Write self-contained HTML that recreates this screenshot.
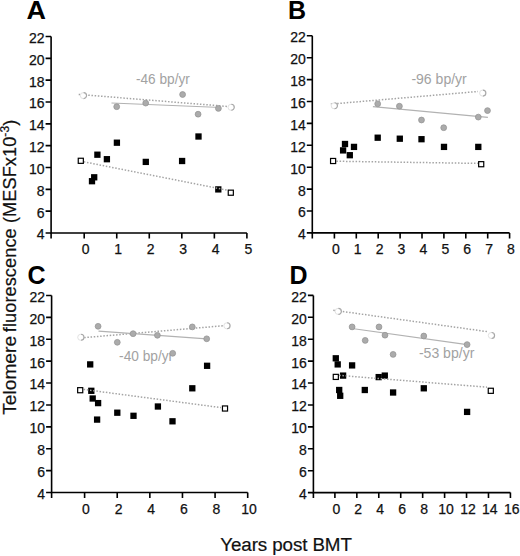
<!DOCTYPE html>
<html><head><meta charset="utf-8"><style>
html,body{margin:0;padding:0;background:#fff;}
svg{display:block;font-family:"Liberation Sans",sans-serif;}
.yl{font-size:14px;text-anchor:end;fill:#111;stroke:#111;stroke-width:0.25px;}
.xl{font-size:14px;text-anchor:middle;fill:#111;stroke:#111;stroke-width:0.25px;}
.pl{font-size:25px;font-weight:bold;fill:#000;}
.an{font-size:14px;fill:#a2a2a2;}
.al{font-size:18.2px;fill:#111;stroke:#111;stroke-width:0.2px;}
.dl{stroke:#a4a4a4;stroke-width:1.5;stroke-dasharray:1.5 1.7;}
.sl{stroke:#b2b2b2;stroke-width:1.2;}
</style></head><body>
<svg width="520" height="556" viewBox="0 0 520 556">
<rect width="520" height="556" fill="#fff"/>
<path d="M51.1 36.5V233H246.9" fill="none" stroke="#000" stroke-width="1.6"/>
<text x="44.6" y="42.9" class="yl">22</text>
<text x="44.6" y="64.73" class="yl">20</text>
<text x="44.6" y="86.57" class="yl">18</text>
<text x="44.6" y="108.4" class="yl">16</text>
<text x="44.6" y="130.23" class="yl">14</text>
<text x="44.6" y="152.07" class="yl">12</text>
<text x="44.6" y="173.9" class="yl">10</text>
<text x="44.6" y="195.73" class="yl">8</text>
<text x="44.6" y="217.57" class="yl">6</text>
<text x="44.6" y="239.4" class="yl">4</text>
<text x="85.6" y="254" class="xl">0</text>
<text x="118.14" y="254" class="xl">1</text>
<text x="150.68" y="254" class="xl">2</text>
<text x="183.22" y="254" class="xl">3</text>
<text x="215.76" y="254" class="xl">4</text>
<text x="248.3" y="254" class="xl">5</text>
<path d="M45.6 36.5H51.1M45.6 58.33H51.1M45.6 80.17H51.1M45.6 102H51.1M45.6 123.83H51.1M45.6 145.67H51.1M45.6 167.5H51.1M45.6 189.33H51.1M45.6 211.17H51.1M45.6 233H51.1M51.1 233V238.5M84.2 233V238.5M116.74 233V238.5M149.28 233V238.5M181.82 233V238.5M214.36 233V238.5M246.9 233V238.5" fill="none" stroke="#000" stroke-width="1.6"/>
<text x="26.4" y="19.2" class="pl" textLength="19.5" lengthAdjust="spacingAndGlyphs">A</text>
<line x1="78.7" y1="94.4" x2="227" y2="106.4" class="dl"/>
<line x1="111.5" y1="103" x2="221" y2="107.5" class="sl"/>
<text x="136" y="84" class="an" textLength="53.8" lengthAdjust="spacingAndGlyphs">-46 bp/yr</text>
<circle cx="116.7" cy="106.7" r="2.9" fill="#ababab" stroke="#959595" stroke-width="0.8"/>
<circle cx="145.7" cy="103.1" r="2.9" fill="#ababab" stroke="#959595" stroke-width="0.8"/>
<circle cx="182.6" cy="94.5" r="2.9" fill="#ababab" stroke="#959595" stroke-width="0.8"/>
<circle cx="198.1" cy="114.2" r="2.9" fill="#ababab" stroke="#959595" stroke-width="0.8"/>
<circle cx="218.4" cy="108.4" r="2.9" fill="#ababab" stroke="#959595" stroke-width="0.8"/>
<circle cx="83.3" cy="95.6" r="3.0" fill="#fff" stroke="#e2e2e2" stroke-width="1"/>
<path d="M83.6 92.6A3.0 3.0 0 0 1 83.6 98.6" fill="none" stroke="#a8a8a8" stroke-width="1.1"/>
<circle cx="231" cy="107.3" r="3.0" fill="#fff" stroke="#e2e2e2" stroke-width="1"/>
<path d="M231.3 104.3A3.0 3.0 0 0 1 231.3 110.3" fill="none" stroke="#a8a8a8" stroke-width="1.1"/>
<rect x="113.75" y="139.55" width="6.3" height="6.3" fill="#000"/>
<rect x="94.25" y="151.55" width="6.3" height="6.3" fill="#000"/>
<rect x="103.75" y="156.05" width="6.3" height="6.3" fill="#000"/>
<rect x="142.65" y="158.75" width="6.3" height="6.3" fill="#000"/>
<rect x="91.05" y="174.15" width="6.3" height="6.3" fill="#000"/>
<rect x="88.85" y="178.05" width="6.3" height="6.3" fill="#000"/>
<rect x="195.35" y="133.35" width="6.3" height="6.3" fill="#000"/>
<rect x="178.95" y="157.85" width="6.3" height="6.3" fill="#000"/>
<rect x="215.15" y="186.25" width="6.3" height="6.3" fill="#000"/>
<line x1="80.7" y1="161.2" x2="229" y2="190.5" class="dl"/>
<rect x="78.25" y="158.25" width="5.1" height="5.1" fill="#fff" stroke="#000" stroke-width="1.2"/>
<rect x="228.25" y="190.15" width="5.1" height="5.1" fill="#fff" stroke="#000" stroke-width="1.2"/>
<path d="M312.3 35.8V232.9H509.6" fill="none" stroke="#000" stroke-width="1.6"/>
<text x="305.8" y="42.2" class="yl">22</text>
<text x="305.8" y="64.1" class="yl">20</text>
<text x="305.8" y="86" class="yl">18</text>
<text x="305.8" y="107.9" class="yl">16</text>
<text x="305.8" y="129.8" class="yl">14</text>
<text x="305.8" y="151.7" class="yl">12</text>
<text x="305.8" y="173.6" class="yl">10</text>
<text x="305.8" y="195.5" class="yl">8</text>
<text x="305.8" y="217.4" class="yl">6</text>
<text x="305.8" y="239.3" class="yl">4</text>
<text x="335.8" y="253.9" class="xl">0</text>
<text x="357.7" y="253.9" class="xl">1</text>
<text x="379.6" y="253.9" class="xl">2</text>
<text x="401.5" y="253.9" class="xl">3</text>
<text x="423.4" y="253.9" class="xl">4</text>
<text x="445.3" y="253.9" class="xl">5</text>
<text x="467.2" y="253.9" class="xl">6</text>
<text x="489.1" y="253.9" class="xl">7</text>
<text x="511" y="253.9" class="xl">8</text>
<path d="M306.8 35.8H312.3M306.8 57.7H312.3M306.8 79.6H312.3M306.8 101.5H312.3M306.8 123.4H312.3M306.8 145.3H312.3M306.8 167.2H312.3M306.8 189.1H312.3M306.8 211H312.3M306.8 232.9H312.3M312.3 232.9V238.4M334.4 232.9V238.4M356.3 232.9V238.4M378.2 232.9V238.4M400.1 232.9V238.4M422 232.9V238.4M443.9 232.9V238.4M465.8 232.9V238.4M487.7 232.9V238.4M509.6 232.9V238.4" fill="none" stroke="#000" stroke-width="1.6"/>
<text x="287.9" y="19.3" class="pl">B</text>
<line x1="330.8" y1="104.1" x2="478" y2="91.5" class="dl"/>
<line x1="372.9" y1="106.7" x2="487.9" y2="117.3" class="sl"/>
<text x="411.4" y="84" class="an" textLength="55.4" lengthAdjust="spacingAndGlyphs">-96 bp/yr</text>
<circle cx="377.7" cy="103.8" r="2.9" fill="#ababab" stroke="#959595" stroke-width="0.8"/>
<circle cx="399.4" cy="106.2" r="2.9" fill="#ababab" stroke="#959595" stroke-width="0.8"/>
<circle cx="487.5" cy="110.6" r="2.9" fill="#ababab" stroke="#959595" stroke-width="0.8"/>
<circle cx="478.3" cy="117.1" r="2.9" fill="#ababab" stroke="#959595" stroke-width="0.8"/>
<circle cx="421.5" cy="120" r="2.9" fill="#ababab" stroke="#959595" stroke-width="0.8"/>
<circle cx="443.7" cy="127.7" r="2.9" fill="#ababab" stroke="#959595" stroke-width="0.8"/>
<circle cx="334.2" cy="105.8" r="3.0" fill="#fff" stroke="#e2e2e2" stroke-width="1"/>
<path d="M334.5 102.8A3.0 3.0 0 0 1 334.5 108.8" fill="none" stroke="#a8a8a8" stroke-width="1.1"/>
<circle cx="482.6" cy="93.1" r="3.0" fill="#fff" stroke="#e2e2e2" stroke-width="1"/>
<path d="M482.9 90.1A3.0 3.0 0 0 1 482.9 96.1" fill="none" stroke="#a8a8a8" stroke-width="1.1"/>
<rect x="374.55" y="134.55" width="6.3" height="6.3" fill="#000"/>
<rect x="396.65" y="135.55" width="6.3" height="6.3" fill="#000"/>
<rect x="341.85" y="140.85" width="6.3" height="6.3" fill="#000"/>
<rect x="350.85" y="143.75" width="6.3" height="6.3" fill="#000"/>
<rect x="339.95" y="147.25" width="6.3" height="6.3" fill="#000"/>
<rect x="346.65" y="152.05" width="6.3" height="6.3" fill="#000"/>
<rect x="418.35" y="136.05" width="6.3" height="6.3" fill="#000"/>
<rect x="440.85" y="143.75" width="6.3" height="6.3" fill="#000"/>
<rect x="475.15" y="143.75" width="6.3" height="6.3" fill="#000"/>
<line x1="333.2" y1="161.2" x2="479" y2="163.4" class="dl"/>
<rect x="330.55" y="158.45" width="5.1" height="5.1" fill="#fff" stroke="#000" stroke-width="1.2"/>
<rect x="478.65" y="161.65" width="5.1" height="5.1" fill="#fff" stroke="#000" stroke-width="1.2"/>
<path d="M51.6 295.5V492.5H247.7" fill="none" stroke="#000" stroke-width="1.6"/>
<text x="45.1" y="301.9" class="yl">22</text>
<text x="45.1" y="323.79" class="yl">20</text>
<text x="45.1" y="345.68" class="yl">18</text>
<text x="45.1" y="367.57" class="yl">16</text>
<text x="45.1" y="389.46" class="yl">14</text>
<text x="45.1" y="411.34" class="yl">12</text>
<text x="45.1" y="433.23" class="yl">10</text>
<text x="45.1" y="455.12" class="yl">8</text>
<text x="45.1" y="477.01" class="yl">6</text>
<text x="45.1" y="498.9" class="yl">4</text>
<text x="86" y="513.5" class="xl">0</text>
<text x="118.62" y="513.5" class="xl">2</text>
<text x="151.24" y="513.5" class="xl">4</text>
<text x="183.86" y="513.5" class="xl">6</text>
<text x="216.48" y="513.5" class="xl">8</text>
<text x="249.1" y="513.5" class="xl">10</text>
<path d="M46.1 295.5H51.6M46.1 317.39H51.6M46.1 339.28H51.6M46.1 361.17H51.6M46.1 383.06H51.6M46.1 404.94H51.6M46.1 426.83H51.6M46.1 448.72H51.6M46.1 470.61H51.6M46.1 492.5H51.6M51.6 492.5V498M84.6 492.5V498M117.22 492.5V498M149.84 492.5V498M182.46 492.5V498M215.08 492.5V498M247.7 492.5V498" fill="none" stroke="#000" stroke-width="1.6"/>
<text x="27.5" y="283.5" class="pl">C</text>
<line x1="81" y1="337.9" x2="225" y2="325.6" class="dl"/>
<line x1="98.5" y1="331.2" x2="206.7" y2="338.8" class="sl"/>
<text x="119.1" y="360.6" class="an" textLength="54" lengthAdjust="spacingAndGlyphs">-40 bp/yr</text>
<circle cx="98.1" cy="326.3" r="2.9" fill="#ababab" stroke="#959595" stroke-width="0.8"/>
<circle cx="117.3" cy="342.3" r="2.9" fill="#ababab" stroke="#959595" stroke-width="0.8"/>
<circle cx="133.1" cy="333.7" r="2.9" fill="#ababab" stroke="#959595" stroke-width="0.8"/>
<circle cx="157.4" cy="335.3" r="2.9" fill="#ababab" stroke="#959595" stroke-width="0.8"/>
<circle cx="192.3" cy="326.9" r="2.9" fill="#ababab" stroke="#959595" stroke-width="0.8"/>
<circle cx="206.7" cy="338.8" r="2.9" fill="#ababab" stroke="#959595" stroke-width="0.8"/>
<circle cx="172.7" cy="353.3" r="2.9" fill="#ababab" stroke="#959595" stroke-width="0.8"/>
<circle cx="80.7" cy="337.3" r="3.0" fill="#fff" stroke="#e2e2e2" stroke-width="1"/>
<path d="M81 334.3A3.0 3.0 0 0 1 81 340.3" fill="none" stroke="#a8a8a8" stroke-width="1.1"/>
<circle cx="226.8" cy="325.8" r="3.0" fill="#fff" stroke="#e2e2e2" stroke-width="1"/>
<path d="M227.1 322.8A3.0 3.0 0 0 1 227.1 328.8" fill="none" stroke="#a8a8a8" stroke-width="1.1"/>
<rect x="87.05" y="361.25" width="6.3" height="6.3" fill="#000"/>
<rect x="203.95" y="362.65" width="6.3" height="6.3" fill="#000"/>
<rect x="88.15" y="387.65" width="6.3" height="6.3" fill="#000"/>
<rect x="89.55" y="395.35" width="6.3" height="6.3" fill="#000"/>
<rect x="94.95" y="399.95" width="6.3" height="6.3" fill="#000"/>
<rect x="93.95" y="416.45" width="6.3" height="6.3" fill="#000"/>
<rect x="114.15" y="409.55" width="6.3" height="6.3" fill="#000"/>
<rect x="130.35" y="412.65" width="6.3" height="6.3" fill="#000"/>
<rect x="154.75" y="403.35" width="6.3" height="6.3" fill="#000"/>
<rect x="189.15" y="385.15" width="6.3" height="6.3" fill="#000"/>
<rect x="169.35" y="418.15" width="6.3" height="6.3" fill="#000"/>
<line x1="80.5" y1="389" x2="221" y2="407.6" class="dl"/>
<rect x="77.65" y="387.65" width="5.1" height="5.1" fill="#fff" stroke="#000" stroke-width="1.2"/>
<rect x="222.45" y="405.95" width="5.1" height="5.1" fill="#fff" stroke="#000" stroke-width="1.2"/>
<path d="M313.4 295.4V492.6H510.4" fill="none" stroke="#000" stroke-width="1.6"/>
<text x="306.9" y="301.8" class="yl">22</text>
<text x="306.9" y="323.71" class="yl">20</text>
<text x="306.9" y="345.62" class="yl">18</text>
<text x="306.9" y="367.53" class="yl">16</text>
<text x="306.9" y="389.44" class="yl">14</text>
<text x="306.9" y="411.36" class="yl">12</text>
<text x="306.9" y="433.27" class="yl">10</text>
<text x="306.9" y="455.18" class="yl">8</text>
<text x="306.9" y="477.09" class="yl">6</text>
<text x="306.9" y="499" class="yl">4</text>
<text x="336.3" y="513.6" class="xl">0</text>
<text x="358.24" y="513.6" class="xl">2</text>
<text x="380.18" y="513.6" class="xl">4</text>
<text x="402.12" y="513.6" class="xl">6</text>
<text x="424.06" y="513.6" class="xl">8</text>
<text x="446" y="513.6" class="xl">10</text>
<text x="467.94" y="513.6" class="xl">12</text>
<text x="489.88" y="513.6" class="xl">14</text>
<text x="511.82" y="513.6" class="xl">16</text>
<path d="M307.9 295.4H313.4M307.9 317.31H313.4M307.9 339.22H313.4M307.9 361.13H313.4M307.9 383.04H313.4M307.9 404.96H313.4M307.9 426.87H313.4M307.9 448.78H313.4M307.9 470.69H313.4M307.9 492.6H313.4M313.4 492.6V498.1M334.9 492.6V498.1M356.84 492.6V498.1M378.78 492.6V498.1M400.72 492.6V498.1M422.66 492.6V498.1M444.6 492.6V498.1M466.54 492.6V498.1M488.48 492.6V498.1M510.42 492.6V498.1" fill="none" stroke="#000" stroke-width="1.6"/>
<text x="289.5" y="283.7" class="pl">D</text>
<line x1="333.3" y1="310.2" x2="487" y2="331.6" class="dl"/>
<line x1="352.1" y1="328.5" x2="467.1" y2="344.6" class="sl"/>
<text x="418.9" y="357.7" class="an" textLength="55.5" lengthAdjust="spacingAndGlyphs">-53 bp/yr</text>
<circle cx="352.1" cy="326.9" r="2.9" fill="#ababab" stroke="#959595" stroke-width="0.8"/>
<circle cx="379" cy="326.9" r="2.9" fill="#ababab" stroke="#959595" stroke-width="0.8"/>
<circle cx="385" cy="335.2" r="2.9" fill="#ababab" stroke="#959595" stroke-width="0.8"/>
<circle cx="365.2" cy="340.4" r="2.9" fill="#ababab" stroke="#959595" stroke-width="0.8"/>
<circle cx="393.1" cy="354.4" r="2.9" fill="#ababab" stroke="#959595" stroke-width="0.8"/>
<circle cx="423.8" cy="336" r="2.9" fill="#ababab" stroke="#959595" stroke-width="0.8"/>
<circle cx="467.1" cy="344.6" r="2.9" fill="#ababab" stroke="#959595" stroke-width="0.8"/>
<circle cx="338.1" cy="311.4" r="3.0" fill="#fff" stroke="#e2e2e2" stroke-width="1"/>
<path d="M338.4 308.4A3.0 3.0 0 0 1 338.4 314.4" fill="none" stroke="#a8a8a8" stroke-width="1.1"/>
<circle cx="491.3" cy="335.5" r="3.0" fill="#fff" stroke="#e2e2e2" stroke-width="1"/>
<path d="M491.6 332.5A3.0 3.0 0 0 1 491.6 338.5" fill="none" stroke="#a8a8a8" stroke-width="1.1"/>
<rect x="332.65" y="355.15" width="6.3" height="6.3" fill="#000"/>
<rect x="334.55" y="361.25" width="6.3" height="6.3" fill="#000"/>
<rect x="348.95" y="362.25" width="6.3" height="6.3" fill="#000"/>
<rect x="339.95" y="372.45" width="6.3" height="6.3" fill="#000"/>
<rect x="375.55" y="373.95" width="6.3" height="6.3" fill="#000"/>
<rect x="381.65" y="372.45" width="6.3" height="6.3" fill="#000"/>
<rect x="336.05" y="386.85" width="6.3" height="6.3" fill="#000"/>
<rect x="337.05" y="392.65" width="6.3" height="6.3" fill="#000"/>
<rect x="361.65" y="386.85" width="6.3" height="6.3" fill="#000"/>
<rect x="389.95" y="389.35" width="6.3" height="6.3" fill="#000"/>
<rect x="420.65" y="385.15" width="6.3" height="6.3" fill="#000"/>
<rect x="463.95" y="408.75" width="6.3" height="6.3" fill="#000"/>
<line x1="336" y1="375.1" x2="487" y2="387.2" class="dl"/>
<rect x="333.25" y="374.35" width="5.1" height="5.1" fill="#fff" stroke="#000" stroke-width="1.2"/>
<rect x="488.25" y="388.25" width="5.1" height="5.1" fill="#fff" stroke="#000" stroke-width="1.2"/>
<text x="220.3" y="551.3" class="al" style="font-size:18.8px" textLength="131.6" lengthAdjust="spacing">Years post BMT</text>
<g transform="translate(16.3 414.8) rotate(-90)"><text x="0" y="0" class="al" textLength="78.9" lengthAdjust="spacingAndGlyphs">Telomere</text><text x="82.6" y="0" class="al" letter-spacing="0.07">fluorescence (MESFx10<tspan dy="-7" font-size="12">-3</tspan><tspan dy="7">)</tspan></text></g>
</svg>
</body></html>
